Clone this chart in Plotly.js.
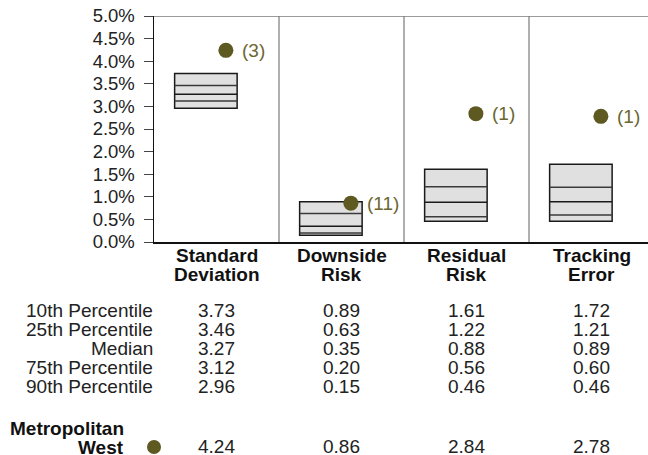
<!DOCTYPE html>
<html>
<head>
<meta charset="utf-8">
<script src="https://cdn.plot.ly/plotly-3.0.1.min.js"></script>
<style>html,body{margin:0;padding:0;background:#fff;}#chart{width:648px;height:455px;}</style>
</head>
<body>
<div id="chart"></div>
<script>
// ---- data ----
const categories = [["Standard", "Deviation"], ["Downside", "Risk"], ["Residual", "Risk"], ["Tracking", "Error"]];
const p10 = [3.73, 0.89, 1.61, 1.72];
const p25 = [3.46, 0.63, 1.22, 1.21];
const median = [3.27, 0.35, 0.88, 0.89];
const p75 = [3.12, 0.20, 0.56, 0.60];
const p90 = [2.96, 0.15, 0.46, 0.46];
const fundName = ["Metropolitan", "West"];
const fundValues = [4.24, 0.86, 2.84, 2.78];
const fundRanks = [3, 11, 1, 1];
const rowLabels = ["10th Percentile", "25th Percentile", "Median", "75th Percentile", "90th Percentile"];
const yTicks = [0, 0.5, 1, 1.5, 2, 2.5, 3, 3.5, 4, 4.5, 5];

// ---- layout constants ----
const W = 648, H = 455;
const L = 154, T = 16, B = 242;           // plot area in px
const PW = 125;                            // px per category
const xMax = -0.5 + (W - L) / PW;
const boxOff = -0.085, boxW = 0.5, dotOff = 0.075;
const olive = "#5d5921";
const FONT = "Liberation Sans, Arial, sans-serif";
const py = p => (B - p) / (B - T);         // pixel y -> paper y
const px = p => (p - L) / (W - L);         // pixel x -> paper x

const idx = categories.map((_, i) => i);

const traces = [];
// boxes (10th..90th)
traces.push({
  type: "bar",
  x: idx.map(i => i + boxOff),
  base: p90,
  y: p10.map((v, i) => v - p90[i]),
  width: boxW,
  marker: {color: "#e0e0e0", line: {color: "#1a1a1a", width: 1.5}},
  hoverinfo: "skip",
  showlegend: false
});
// inner lines
function segs(vals, color) {
  const xs = [], ys = [];
  vals.forEach((v, i) => {
    xs.push(i + boxOff - boxW / 2, i + boxOff + boxW / 2, null);
    ys.push(v, v, null);
  });
  return {type: "scatter", mode: "lines", x: xs, y: ys, line: {color: color, width: 1.5},
          hoverinfo: "skip", showlegend: false, cliponaxis: false};
}
traces.push(segs(p25, "#3a3a3a"));
traces.push(segs(median, "#1a1a1a"));
traces.push(segs(p75, "#3a3a3a"));
// fund dots
traces.push({
  type: "scatter", mode: "markers",
  x: idx.map(i => i + dotOff), y: fundValues,
  marker: {color: olive, size: 15},
  hoverinfo: "skip", showlegend: false, cliponaxis: false
});

const annotations = [];
// rank labels
idx.forEach(i => {
  annotations.push({x: i + dotOff, y: fundValues[i], xref: "x", yref: "y",
    text: "(" + fundRanks[i] + ")", showarrow: false, xanchor: "left", yanchor: "middle",
    xshift: 14, yshift: 0, font: {family: FONT, size: 19, color: "#6b6630"}});
});
// category labels
idx.forEach(i => {
  categories[i].forEach((line, k) => {
    annotations.push({x: i, y: py(255.5 + k * 18.5), xref: "x", yref: "paper",
      text: "<b>" + line + "</b>", showarrow: false, xanchor: "center", yanchor: "middle",
      font: {family: FONT, size: 19, color: "#111"}});
  });
});
// table
const tableRows = [p10, p25, median, p75, p90];
rowLabels.forEach((lab, r) => {
  const yc = py(310.5 + r * 19);
  annotations.push({x: px(155), y: yc, xref: "paper", yref: "paper", text: lab,
    showarrow: false, xanchor: "right", yanchor: "middle",
    font: {family: FONT, size: 19, color: "#222"}});
  idx.forEach(i => {
    annotations.push({x: i, y: yc, xref: "x", yref: "paper", text: tableRows[r][i].toFixed(2),
      showarrow: false, xanchor: "center", yanchor: "middle",
      font: {family: FONT, size: 19, color: "#222"}});
  });
});
fundName.forEach((line, k) => {
  annotations.push({x: px(126), y: py(428 + k * 19), xref: "paper", yref: "paper",
    text: "<b>" + line + "</b>", showarrow: false, xanchor: "right", yanchor: "middle",
    font: {family: FONT, size: 19, color: "#111"}});
});
idx.forEach(i => {
  annotations.push({x: i, y: py(446.5), xref: "x", yref: "paper", text: fundValues[i].toFixed(2),
    showarrow: false, xanchor: "center", yanchor: "middle",
    font: {family: FONT, size: 19, color: "#222"}});
});

const shapes = [];
// dividers
[0.5, 1.5, 2.5].forEach(xv => shapes.push({type: "line", xref: "x", yref: "y",
  x0: xv, x1: xv, y0: 0, y1: 5, line: {color: "#7a7a7a", width: 1.2}}));
// top border
shapes.push({type: "line", xref: "paper", yref: "y", x0: 0, x1: 1, y0: 5, y1: 5,
  line: {color: "#7a7a7a", width: 1.5}});
// legend dot in table
shapes.push({type: "circle", xref: "paper", yref: "paper",
  x0: px(147), x1: px(161), y0: py(454), y1: py(440),
  fillcolor: olive, line: {width: 0}});

const layout = {
  width: W, height: H,
  margin: {l: L, r: 0, t: T, b: H - B, pad: 0},
  paper_bgcolor: "#fff", plot_bgcolor: "#fff",
  showlegend: false,
  xaxis: {range: [-0.5, xMax], showticklabels: false, ticks: "", showgrid: false, zeroline: false,
          showline: true, linecolor: "#111", linewidth: 1.5, fixedrange: true},
  yaxis: {range: [0, 5], tickvals: yTicks, ticktext: yTicks.map(v => v.toFixed(1) + "%"),
          ticks: "outside", ticklen: 9, tickwidth: 1, tickcolor: "#444",
          showgrid: false, zeroline: false, showline: true, linecolor: "#111", linewidth: 1.5,
          ticklabelstandoff: 5,
          tickfont: {family: FONT, size: 18.5, color: "#222"}, fixedrange: true},
  annotations: annotations,
  shapes: shapes,
  bargap: 0
};

Plotly.newPlot("chart", traces, layout, {displayModeBar: false, staticPlot: true});
</script>
</body>
</html>
